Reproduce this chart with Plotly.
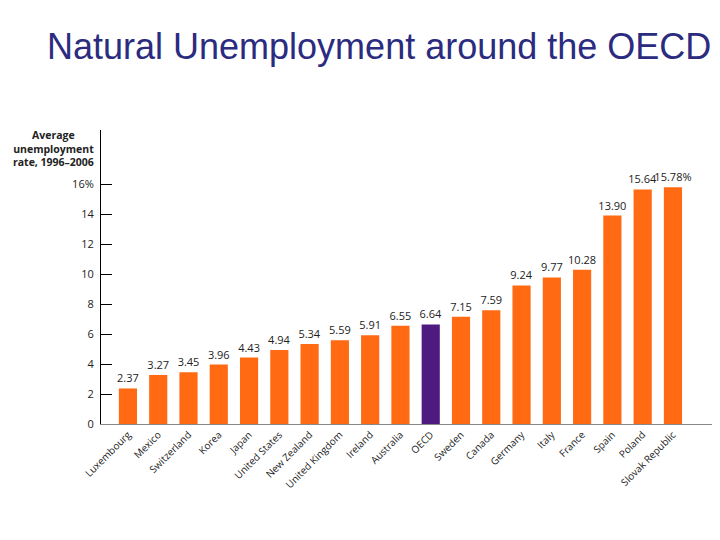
import plotly.graph_objects as go

countries = ["Luxembourg", "Mexico", "Switzerland", "Korea", "Japan", "United States",
             "New Zealand", "United Kingdom", "Ireland", "Australia", "OECD", "Sweden",
             "Canada", "Germany", "Italy", "France", "Spain", "Poland", "Slovak Republic"]
rates = [2.37, 3.27, 3.45, 3.96, 4.43, 4.94, 5.34, 5.59, 5.91, 6.55, 6.64, 7.15,
         7.59, 9.24, 9.77, 10.28, 13.90, 15.64, 15.78]
tick_vals = [0, 2, 4, 6, 8, 10, 12, 14, 16]
tick_text = ["0", "2", "4", "6", "8", "10", "12", "14", "16%"]

ORANGE = "#FF6A13"
PURPLE = "#4F1A80"
colors = [PURPLE if c == "OECD" else ORANGE for c in countries]
labels = [f"{v:.2f}" for v in rates]
labels[-1] = labels[-1] + "%"

W, H = 720, 540
OFF = 8  # page body margin
PW, PH = 611, 294
L, T = 101 - OFF, 130 - OFF
R = W - L - PW
B = H - T - PH

fig = go.Figure(go.Bar(
    x=countries, y=rates, marker_color=colors, marker_line_width=0,
    text=labels, textposition="outside", cliponaxis=False, constraintext="none",
    textfont=dict(family="Open Sans", size=11, color="#222222"),
))

fig.update_layout(
    width=W, height=H,
    margin=dict(l=L, r=R, t=T, b=B, autoexpand=False),
    paper_bgcolor="white", plot_bgcolor="white",
    bargap=0.4, showlegend=False,
    title=dict(text="Natural Unemployment around the OECD",
               font=dict(family="Liberation Sans, Arial", size=36, color="#2B2B80"),
               x=(47 - OFF) / W, xanchor="left", y=1 - (46 - OFF) / H, yanchor="middle"),
    font=dict(family="Open Sans", size=11, color="#222222"),
)

fig.update_xaxes(
    type="category", range=[-0.89, len(countries) - 1 + 1.29],
    tickangle=-45, tickfont=dict(family="Open Sans", size=10, color="#222222"),
    showline=True, linecolor="#888888", linewidth=1, ticks="", showgrid=False,
    zeroline=False, automargin=False,
)
fig.update_yaxes(
    range=[0, 19.6], tickvals=tick_vals, ticktext=tick_text,
    ticks="inside", ticklen=11, tickcolor="#000000", tickwidth=1,
    showline=True, linecolor="#000000", linewidth=1, showgrid=False, zeroline=False,
    tickfont=dict(family="Open Sans", size=11, color="#222222"), ticklabelstandoff=4,
    automargin=False,
)

fig.add_annotation(
    text="<b>Average<br>unemployment<br>rate, 1996–2006</b>",
    xref="paper", yref="paper", x=-48 / PW, y=1 + 4 / PH,
    xanchor="center", yanchor="top", showarrow=False, align="center",
    font=dict(family="Open Sans", size=10.5, color="#222222"),
)

fig.write_html("out.html")
